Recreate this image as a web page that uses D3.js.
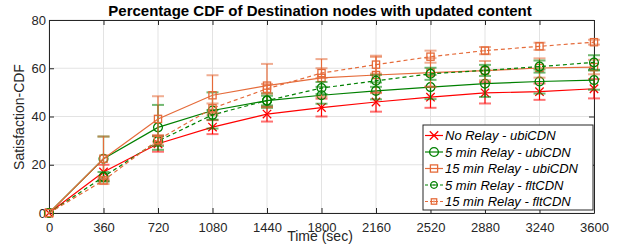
<!DOCTYPE html>
<html>
<head>
<meta charset="utf-8">
<script src="https://cdn.jsdelivr.net/npm/d3@7"></script>
<style>
  body { margin: 0; background: #fff; }
  svg text { font-family: "Liberation Sans", Arial, sans-serif; }
</style>
</head>
<body>
<div id="chart"></div>
<script>
// time steps (sec)
const times = [0, 360, 720, 1080, 1440, 1800, 2160, 2520, 2880, 3240, 3600];
const yTicks = [0, 20, 40, 60, 80];

const noRelayUbi = [0, 17, 28.7, 35.6, 41, 43.7, 46, 48, 49.8, 50.3, 51.5];
const noRelayUbiErr = [0, 3, 3.3, 2.9, 3.1, 3.7, 4, 4.4, 4.4, 3.4, 4];
const relay5Ubi = [0, 22.5, 35.5, 42.5, 46.6, 48.8, 50.6, 52.2, 53.6, 54.5, 55.1];
const relay5UbiErr = [0, 9.2, 9.3, 7.5, 3, 3.5, 3.5, 5, 5.5, 5, 4];
const relay15Ubi = [0, 22.5, 39, 48.8, 52.8, 56, 57.2, 58.2, 59, 60.1, 60.5];
const relay15UbiErr = [0, 9.2, 9.4, 8.3, 9, 7.8, 7.5, 6, 4, 4, 3];
const relay5Flt = [0, 15, 29.8, 40.7, 46.6, 51.8, 54.8, 57.7, 59.1, 60.7, 62.4];
const relay5FltErr = [0, 2, 2, 2, 2, 2.5, 2.5, 2.5, 2.3, 2.5, 3];
const relay15Flt = [0, 13.5, 30.3, 43.4, 51.5, 58, 61.5, 64.8, 67.3, 69.1, 70.8];
const relay15FltErr = [0, 1.5, 2, 2, 2, 2, 3.7, 2.5, 1.5, 1.5, 1];

const series = [
  { name: "No Relay - ubiCDN", values: noRelayUbi, err: noRelayUbiErr, color: "#ff0000", marker: "x", dash: null },
  { name: "5 min Relay - ubiCDN", values: relay5Ubi, err: relay5UbiErr, color: "#008000", marker: "o", dash: null },
  { name: "15 min Relay - ubiCDN", values: relay15Ubi, err: relay15UbiErr, color: "#e56b3a", marker: "s", dash: null },
  { name: "5 min Relay - fltCDN", values: relay5Flt, err: relay5FltErr, color: "#008000", marker: "o", dash: "4,3", dot: true },
  { name: "15 min Relay - fltCDN", values: relay15Flt, err: relay15FltErr, color: "#e56b3a", marker: "s", dash: "4,3", dot: true }
];

const width = 624, height = 244;
const margin = { top: 20, right: 30, bottom: 31, left: 49 };
const w = width - margin.left - margin.right;
const h = height - margin.top - margin.bottom;

const svg = d3.select("#chart").append("svg")
  .attr("width", width).attr("height", height);

const g = svg.append("g")
  .attr("transform", "translate(" + margin.left + "," + margin.top + ")");

const x = d3.scaleLinear().domain([0, 3600]).range([0, w]);
const y = d3.scaleLinear().domain([0, 80]).range([h, 0]);

// grid
g.append("g").selectAll("line").data(times).enter().append("line")
  .attr("x1", d => x(d)).attr("x2", d => x(d))
  .attr("y1", 0).attr("y2", h)
  .attr("stroke", "#e3e3e3").attr("stroke-width", 1);
g.append("g").selectAll("line").data(yTicks).enter().append("line")
  .attr("x1", 0).attr("x2", w)
  .attr("y1", d => y(d)).attr("y2", d => y(d))
  .attr("stroke", "#e3e3e3").attr("stroke-width", 1);

// axes (ticks inward)
const axisColor = "#262626";
const xAxis = g.append("g").attr("transform", "translate(0," + h + ")")
  .call(d3.axisBottom(x).tickValues(times).tickFormat(d3.format("d"))
    .tickSizeInner(-5).tickSizeOuter(0).tickPadding(10));
const xTop = g.append("g")
  .call(d3.axisTop(x).tickValues(times).tickSizeInner(-5).tickSizeOuter(0).tickFormat(""));
const yAxis = g.append("g")
  .call(d3.axisLeft(y).tickValues(yTicks).tickSizeInner(-5).tickSizeOuter(0).tickPadding(3));
const yRight = g.append("g").attr("transform", "translate(" + w + ",0)")
  .call(d3.axisRight(y).tickValues(yTicks).tickSizeInner(-5).tickSizeOuter(0).tickFormat(""));
[xAxis, xTop, yAxis, yRight].forEach(a => {
  a.selectAll("path").attr("stroke", axisColor).attr("stroke-width", 1);
  a.selectAll("line").attr("stroke", axisColor);
  a.selectAll("text").attr("fill", axisColor).style("font-size", "13px");
});

const line = d3.line().x((d, i) => x(times[i])).y(d => y(d));

series.forEach(s => {
  const sg = g.append("g");
  // error bars
  const eb = sg.selectAll("g.eb").data(s.values).enter().append("g");
  eb.append("line")
    .attr("x1", (d, i) => x(times[i])).attr("x2", (d, i) => x(times[i]))
    .attr("y1", (d, i) => y(d - s.err[i])).attr("y2", (d, i) => y(d + s.err[i]))
    .attr("stroke", s.color).attr("stroke-width", 1.2);
  [-1, 1].forEach(sign => {
    eb.append("line")
      .attr("x1", (d, i) => x(times[i]) - 6).attr("x2", (d, i) => x(times[i]) + 6)
      .attr("y1", (d, i) => y(d + sign * s.err[i])).attr("y2", (d, i) => y(d + sign * s.err[i]))
      .attr("stroke", s.color).attr("stroke-width", 2).attr("opacity", (d, i) => s.err[i] > 0 ? 0.55 : 0);
  });
  // line
  sg.append("path").datum(s.values)
    .attr("d", line).attr("fill", "none")
    .attr("stroke", s.color).attr("stroke-width", 1.2)
    .attr("stroke-dasharray", s.dash);
  // markers
  sg.selectAll("g.m").data(s.values).enter().append("g")
    .attr("transform", (d, i) => "translate(" + x(times[i]) + "," + y(d) + ")")
    .each(function () { drawMarker(d3.select(this), s, 1); });
});

function drawMarker(sel, s, scale) {
  if (s.marker === "x") {
    const r = 4.2 * scale;
    sel.append("path").attr("d", `M${-r},${-r}L${r},${r}M${-r},${r}L${r},${-r}`)
      .attr("stroke", s.color).attr("stroke-width", 1.3).attr("fill", "none");
  } else if (s.marker === "o") {
    sel.append("circle").attr("r", 4.4 * scale)
      .attr("fill", "none").attr("stroke", s.color).attr("stroke-width", 1.3);
  } else {
    const a = 3.6 * scale;
    sel.append("rect").attr("x", -a).attr("y", -a).attr("width", 2 * a).attr("height", 2 * a)
      .attr("fill", "none").attr("stroke", s.color).attr("stroke-width", 1.3);
  }
  if (s.dot) {
    sel.append("circle").attr("r", 0.9).attr("fill", s.color);
  }
}

// title and labels
svg.append("text").attr("x", 320).attr("y", 16).attr("text-anchor", "middle")
  .style("font-size", "15px").style("font-weight", "bold").attr("fill", "#000")
  .text("Percentage CDF of Destination nodes with updated content");
svg.append("text").attr("x", 320).attr("y", 241).attr("text-anchor", "middle")
  .style("font-size", "14px").attr("fill", axisColor).text("Time (sec)");
svg.append("text").attr("transform", "translate(24,117) rotate(-90)").attr("text-anchor", "middle")
  .style("font-size", "14px").attr("fill", axisColor).text("Satisfaction-CDF");

// legend
const lg = svg.append("g").attr("transform", "translate(423,125)");
lg.append("rect").attr("width", 170).attr("height", 85)
  .attr("fill", "#fff").attr("stroke", axisColor).attr("stroke-width", 1);
series.forEach((s, i) => {
  const ly = 10.5 + i * 16.5;
  lg.append("line").attr("x1", 2).attr("x2", 20).attr("y1", ly).attr("y2", ly)
    .attr("stroke", s.color).attr("stroke-width", 1.2).attr("stroke-dasharray", s.dash ? "3,2" : null);
  const mg = lg.append("g").attr("transform", "translate(11," + ly + ")");
  drawMarker(mg, s, s.dot ? 0.75 : 1);
  lg.append("text").attr("x", 22).attr("y", ly + 4.5)
    .style("font-size", "13px").style("font-style", "italic").attr("fill", "#000")
    .text(s.name);
});
</script>
</body>
</html>
